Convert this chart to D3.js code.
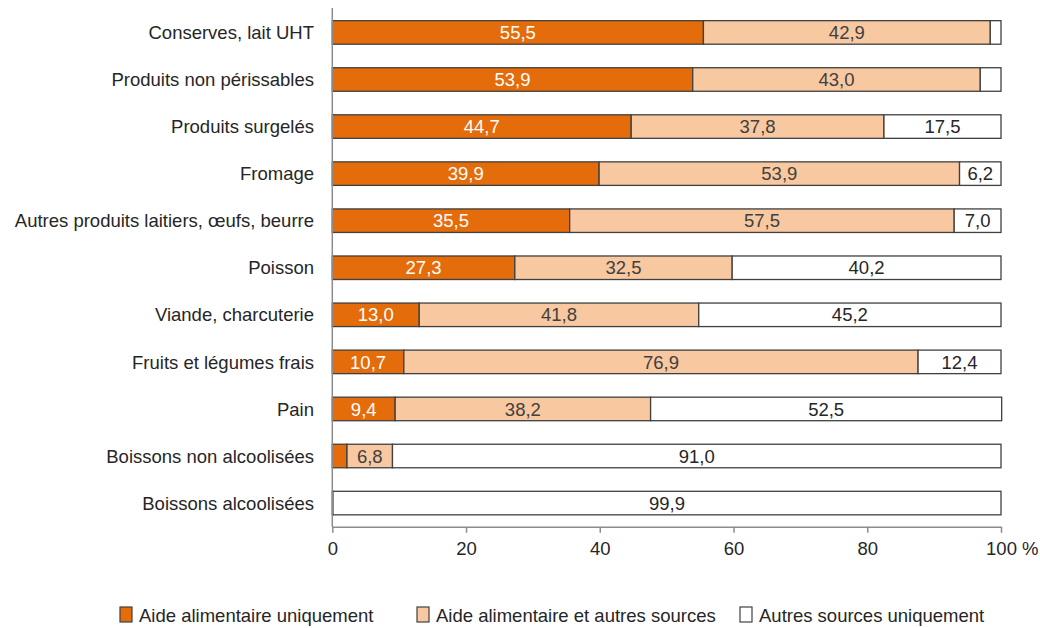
<!DOCTYPE html>
<html><head><meta charset="utf-8">
<script src="https://cdn.jsdelivr.net/npm/d3@7"></script>
<style>body{margin:0;background:#fff;}svg{display:block;font-family:"Liberation Sans",Arial,sans-serif;}</style>
</head><body>
<svg id="c" width="1040" height="628"></svg>
<script>
const categories = ["Conserves, lait UHT","Produits non périssables","Produits surgelés","Fromage","Autres produits laitiers, œufs, beurre","Poisson","Viande, charcuterie","Fruits et légumes frais","Pain","Boissons non alcoolisées","Boissons alcoolisées"];
const aideSeule = [55.5,53.9,44.7,39.9,35.5,27.3,13.0,10.7,9.4,2.2,0.1];
const aideEtAutres = [42.9,43.0,37.8,53.9,57.5,32.5,41.8,76.9,38.2,6.8,0.0];
const autresSeules = [1.6,3.1,17.5,6.2,7.0,40.2,45.2,12.4,52.5,91.0,99.9];
const seriesNames = ["Aide alimentaire uniquement","Aide alimentaire et autres sources","Autres sources uniquement"];
const tickValues = [0,20,40,60,80,100];
const colors = ["#E46C0A","#F8C8A0","#FFFFFF"];
const labelColors = ["#FFFFFF","#404040","#262626"];
const minLabel = [5,5,5];
const FS = 18.5;

const svg = d3.select("#c");
const x = d3.scaleLinear().domain([0,100]).range([332.3,1001]);
const y = d3.scaleBand().domain(categories).range([8.9,526.6]).paddingInner(0.5).paddingOuter(0.25);

const table = categories.map((c,i)=>({cat:c, s0:aideSeule[i], s1:aideEtAutres[i], s2:autresSeules[i]}));
const stack = d3.stack().keys(["s0","s1","s2"])(table);
const fmt = v => d3.format(".1f")(v).replace(".",",");

stack.forEach((layer,k)=>{
  const g = svg.append("g");
  layer.forEach(d=>{
    if (d[1]-d[0] <= 0) return;
    g.append("rect")
      .attr("x", x(d[0])).attr("y", y(d.data.cat))
      .attr("width", x(d[1])-x(d[0])).attr("height", y.bandwidth())
      .attr("fill", colors[k]).attr("stroke","#404040").attr("stroke-width",1.3);
  });
  layer.forEach(d=>{
    const v = d[1]-d[0];
    if (v < minLabel[k]) return;
    g.append("text")
      .attr("x", (x(d[0])+x(d[1]))/2).attr("y", y(d.data.cat)+y.bandwidth()/2)
      .attr("dy","0.36em").attr("text-anchor","middle")
      .attr("font-size",FS).attr("fill",labelColors[k])
      .text(fmt(d.data["s"+k]));
  });
});

// category labels
svg.append("g").selectAll("text").data(categories).join("text")
  .attr("x",314).attr("y",d=>y(d)+y.bandwidth()/2).attr("dy","0.36em")
  .attr("text-anchor","end").attr("font-size",FS).attr("fill","#262626").text(d=>d);

// vertical axis line
svg.append("line").attr("x1",332.3).attr("x2",332.3).attr("y1",8).attr("y2",527)
  .attr("stroke","#8c8c8c").attr("stroke-width",1.5);

// x axis
const xa = svg.append("g").attr("transform","translate(0,526.8)")
  .call(d3.axisBottom(x).tickValues(tickValues).tickSize(6).tickSizeOuter(0).tickFormat(d=>d===100?"100 %":d));
xa.select(".domain").attr("stroke","#8c8c8c").attr("stroke-width",1.5);
xa.selectAll(".tick line").attr("stroke","#8c8c8c").attr("stroke-width",1.5);
xa.selectAll(".tick text").attr("font-size",FS).attr("fill","#262626").attr("font-family","Liberation Sans, Arial, sans-serif").attr("y",15.5).attr("dy","0.71em");
xa.selectAll(".tick").filter(d=>d===100).select("text").attr("text-anchor","start").attr("x",-0.834*FS);

// legend
const legX = [120,417,740];
const lg = svg.append("g");
seriesNames.forEach((n,i)=>{
  lg.append("rect").attr("x",legX[i]).attr("y",607).attr("width",12).attr("height",15)
    .attr("fill",colors[i]).attr("stroke","#404040").attr("stroke-width",1.2);
  lg.append("text").attr("x",legX[i]+19).attr("y",615).attr("dy","0.36em")
    .attr("font-size",FS).attr("fill","#262626").text(n);
});
</script>
</body></html>
